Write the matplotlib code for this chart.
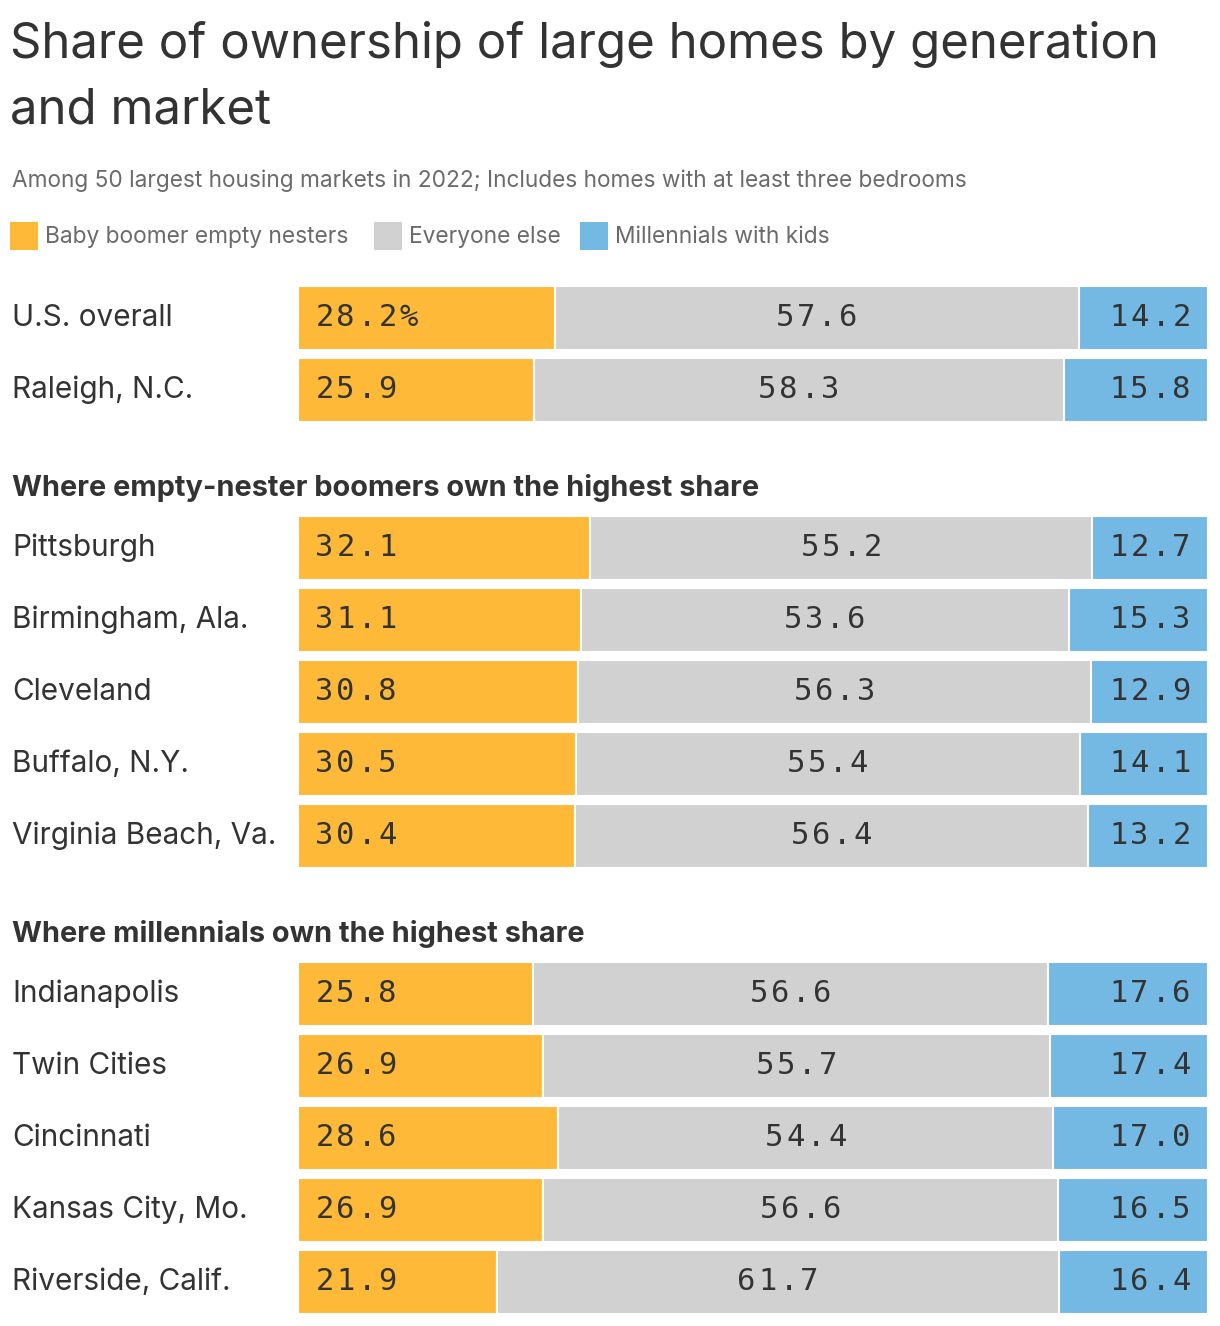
import numpy as np
import matplotlib
matplotlib.use("Agg")
import matplotlib.pyplot as plt
from matplotlib.transforms import ScaledTranslation

W, H = 1220, 1326

# ---- data ----
markets = ["U.S. overall", "Raleigh, N.C.",
           "Pittsburgh", "Birmingham, Ala.", "Cleveland", "Buffalo, N.Y.", "Virginia Beach, Va.",
           "Indianapolis", "Twin Cities", "Cincinnati", "Kansas City, Mo.", "Riverside, Calif."]
boomers = [28.2, 25.9, 32.1, 31.1, 30.8, 30.5, 30.4, 25.8, 26.9, 28.6, 26.9, 21.9]
everyone_else = [57.6, 58.3, 55.2, 53.6, 56.3, 55.4, 56.4, 56.6, 55.7, 54.4, 56.6, 61.7]
millennials = [14.2, 15.8, 12.7, 15.3, 12.9, 14.1, 13.2, 17.6, 17.4, 17.0, 16.5, 16.4]
series_names = ["Baby boomer empty nesters", "Everyone else", "Millennials with kids"]
section_titles = ["Where empty-nester boomers own the highest share",
                  "Where millennials own the highest share"]

# ---- style ----
colors = ["#FEB938", "#D0D1D0", "#74B9E3"]
text_col = "#333333"
grey_text = "#6b6b6b"
sans = ["Inter", "DejaVu Sans"]
mono = ["DejaVu Sans Mono"]

# row layout (pixels from top)
row_y = [318, 390, 548, 620, 692, 764, 836, 994, 1066, 1138, 1210, 1282]
section_y = [488, 934]
bar_h = 64
char_w = 21  # tracking of the value labels, px


def px(x, y):
    return x / W, 1 - y / H


fig = plt.figure(figsize=(W / 100, H / 100), dpi=100)
fig.patch.set_facecolor("white")

# title / subtitle
fig.text(*px(10, 45), "Share of ownership of large homes by generation", fontsize=35.4,
         family=sans, color=text_col, va="center")
fig.text(*px(10, 111), "and market", fontsize=35.4, family=sans, color=text_col, va="center")
fig.text(*px(12, 181), "Among 50 largest housing markets in 2022; Includes homes with at least three bedrooms",
         fontsize=16.3, family=sans, color=grey_text, va="center")

# legend
leg_x = [10, 374, 580]
for lx, name, c in zip(leg_x, series_names, colors):
    fig.patches.append(plt.Rectangle(px(lx, 250), 28 / W, 28 / H, transform=fig.transFigure,
                                     facecolor=c, edgecolor="none"))
    fig.text(*px(lx + 35, 237), name, fontsize=16.4, family=sans, color=grey_text, va="center")

# section headers
for sy, st in zip(section_y, section_titles):
    fig.text(*px(12, sy), st, fontsize=20.8, family=sans, color=text_col, va="center",
             fontweight="bold")

# market labels
for y, mk in zip(row_y, markets):
    fig.text(*px(12, y), mk, fontsize=21.4, family=sans, color=text_col, va="center")

# bars
ax = fig.add_axes([298 / W, 0, 910 / W, 1])
ax.set_xlim(0, 100)
ax.set_ylim(H, 0)
ax.axis("off")

b = np.array(boomers)
e = np.array(everyone_else)
m = np.array(millennials)
lefts = [np.zeros_like(b), b, b + e]
for vals, left, c in zip([b, e, m], lefts, colors):
    ax.barh(row_y, vals, left=left, height=bar_h, color=c, edgecolor="white", linewidth=1.5)


def spaced(x, y, s, align):
    # draw a string one glyph at a time, so it gets the wide tracking of the original
    n = len(s)
    total = n * char_w
    if align == "left":
        start = 0
    elif align == "right":
        start = -total
    else:
        start = -total / 2
    for k, ch in enumerate(s):
        dx = start + (k + 0.5) * char_w
        tr = ax.transData + ScaledTranslation(dx / 100, 0, fig.dpi_scale_trans)
        ax.text(x, y, ch, fontsize=22, family=mono, color=text_col, ha="center",
                va="center", transform=tr)


pad = 16 / 910 * 100
for i, y in enumerate(row_y):
    lab_b = f"{boomers[i]:.1f}%" if i == 0 else f"{boomers[i]:.1f}"
    spaced(pad, y, lab_b, "left")
    spaced(b[i] + e[i] / 2, y, f"{everyone_else[i]:.1f}", "center")
    spaced(100 - pad, y, f"{millennials[i]:.1f}", "right")

fig.savefig("out.png", dpi=100, facecolor="white")
